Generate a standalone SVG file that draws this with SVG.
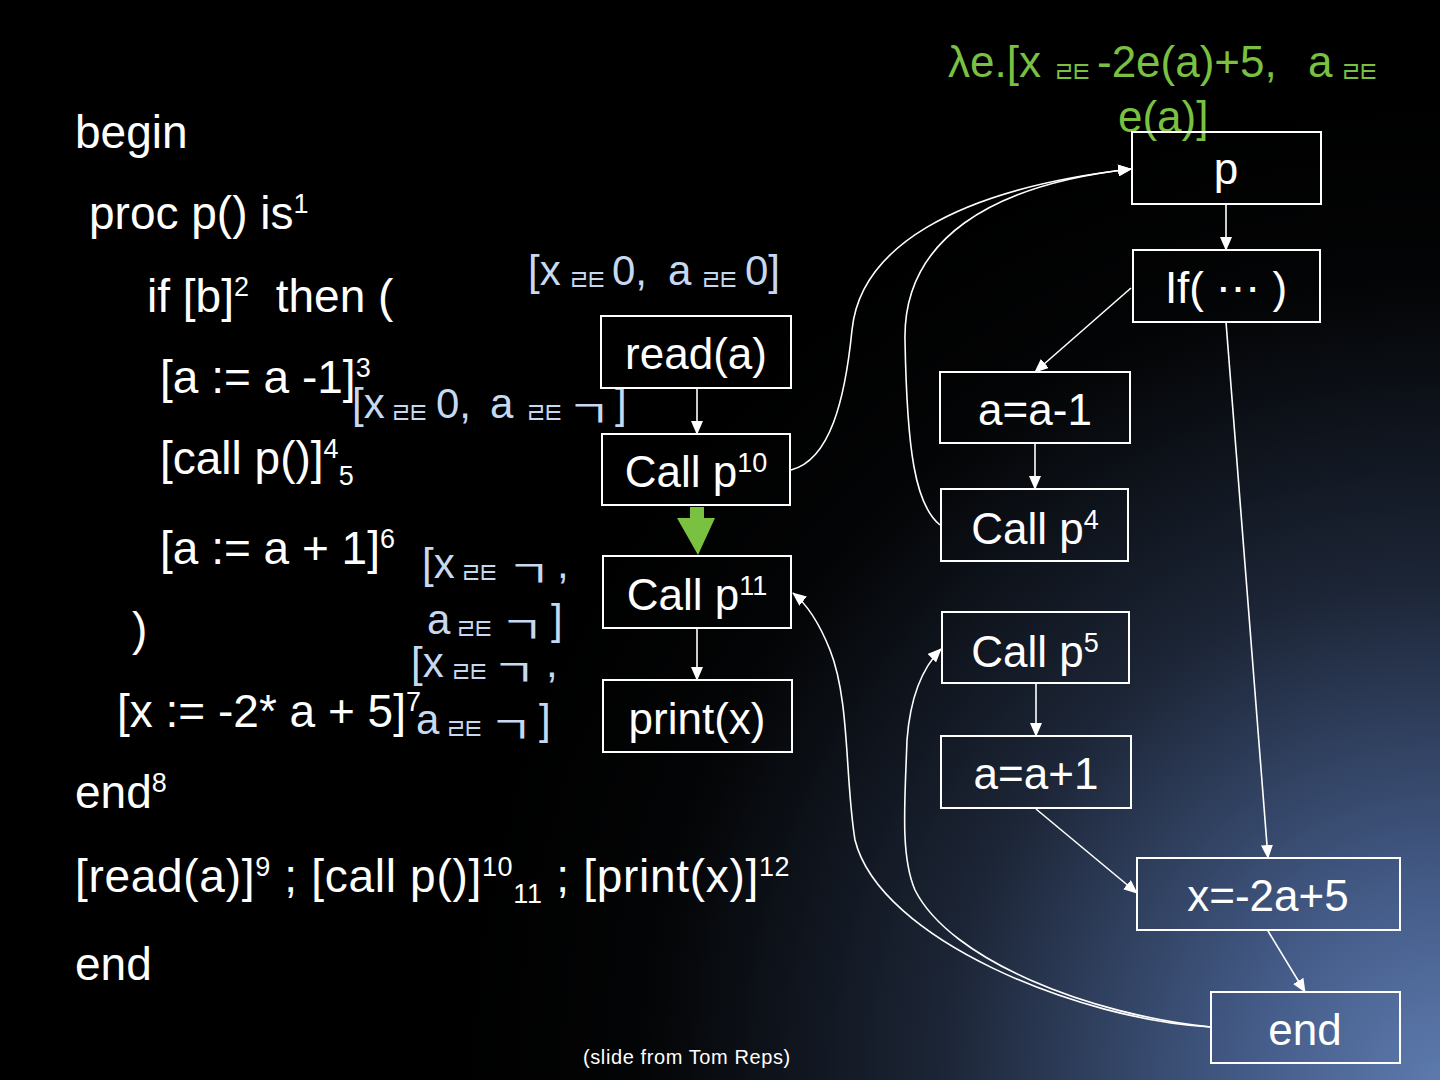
<svg xmlns="http://www.w3.org/2000/svg" width="1440" height="1080" viewBox="0 0 1440 1080">
<defs>
<radialGradient id="bg" cx="1440" cy="1080" r="1000" gradientUnits="userSpaceOnUse">
<stop offset="0" stop-color="#5d7aae"/>
<stop offset="0.2" stop-color="#435a86"/>
<stop offset="0.5" stop-color="#1c2536"/>
<stop offset="0.8" stop-color="#030405"/>
<stop offset="1" stop-color="#000"/>
</radialGradient>
<marker id="ah" markerUnits="userSpaceOnUse" markerWidth="14" markerHeight="12" refX="13" refY="6" orient="auto">
<path d="M0,0 L14,6 L0,12 z" fill="#fff"/>
</marker>
<style>
.code{font-family:"Liberation Sans",Arial,sans-serif;font-size:46px;fill:#fff}
.lbl{font-family:"Liberation Sans",Arial,sans-serif;font-size:44px;fill:#fff;text-anchor:middle}
.box{fill:none;stroke:#fff;stroke-width:2}
.ann{font-family:"Liberation Sans",Arial,sans-serif;font-size:42px;fill:#c6d9f1}
.annk{font-family:"Noto Sans CJK KR",sans-serif;font-size:30px;letter-spacing:-6px;fill:#c6d9f1}
.neg{font-family:"Noto Sans CJK KR",sans-serif;font-size:38px;fill:#c6d9f1}
.grn{font-family:"Liberation Sans",Arial,sans-serif;font-size:44px;fill:#7ac142}
.grnk{font-family:"Noto Sans CJK KR",sans-serif;font-size:30px;letter-spacing:-6px;fill:#7ac142}
.sup{font-size:27px}
.edge{fill:none;stroke:#fff;stroke-width:1.6;marker-end:url(#ah)}
</style>
</defs>
<rect width="1440" height="1080" fill="url(#bg)"/>

<g id="code">
<text class="code" x="75" y="148">begin</text>
<text class="code" x="89" y="229">proc p() is<tspan class="sup" dy="-16">1</tspan></text>
<text class="code" x="147" y="312">if [b]<tspan class="sup" dy="-16">2</tspan><tspan dy="16" dx="14">  then (</tspan></text>
<text class="code" x="160" y="393">[a := a -1]<tspan class="sup" dy="-16">3</tspan></text>
<text class="code" x="160" y="474">[call p()]<tspan class="sup" dy="-16">4</tspan><tspan class="sup" dy="27">5</tspan></text>
<text class="code" x="160" y="564">[a := a + 1]<tspan class="sup" dy="-16">6</tspan></text>
<text class="code" x="132" y="645">)</text>
<text class="code" x="117" y="727">[x := -2* a + 5]<tspan class="sup" dy="-16">7</tspan></text>
<text class="code" x="75" y="808">end<tspan class="sup" dy="-16">8</tspan></text>
<text class="code" x="75" y="892" style="letter-spacing:0.7px">[read(a)]<tspan class="sup" dy="-16">9</tspan><tspan dy="16"> ; [call p()]</tspan><tspan class="sup" dy="-16">10</tspan><tspan class="sup" dy="27">11</tspan><tspan dy="-11"> ; [print(x)]</tspan><tspan class="sup" dy="-16">12</tspan></text>
<text class="code" x="75" y="980">end</text>
<text x="583" y="1064" style="font-family:'Liberation Sans',Arial,sans-serif;font-size:20px;fill:#fff;letter-spacing:0.6px">(slide from Tom Reps)</text>
</g>

<g id="summary">
<text class="grn" x="948" y="77">λe.[x</text>
<text class="grnk" transform="translate(1053,82) scale(0.8,1)">ㄹㅌ</text>
<text class="grn" x="1097" y="77">-2e(a)+5,</text>
<text class="grn" x="1308" y="77">a</text>
<text class="grnk" transform="translate(1340,82) scale(0.8,1)">ㄹㅌ</text>
<text class="grn" x="1118" y="132">e(a)]</text>
</g>

<g id="ann1">
<text class="ann" x="528" y="285">[x</text>
<text class="annk" transform="translate(568,290) scale(0.8,1)">ㄹㅌ</text>
<text class="ann" x="612" y="285">0,</text>
<text class="ann" x="668" y="285">a</text>
<text class="annk" transform="translate(700,290) scale(0.8,1)">ㄹㅌ</text>
<text class="ann" x="745" y="285">0]</text>
</g>
<g id="ann2">
<text class="ann" x="352" y="418">[x</text>
<text class="annk" transform="translate(390,423) scale(0.8,1)">ㄹㅌ</text>
<text class="ann" x="436" y="418">0,</text>
<text class="ann" x="490" y="418">a</text>
<text class="annk" transform="translate(525,423) scale(0.8,1)">ㄹㅌ</text>
<text class="neg" transform="translate(567,427) scale(1.25,1)">ㄱ</text>
<text class="ann" x="615" y="418">]</text>
</g>
<g id="ann3">
<text class="ann" x="422" y="578">[x</text>
<text class="annk" transform="translate(460,583) scale(0.8,1)">ㄹㅌ</text>
<text class="neg" transform="translate(507,587) scale(1.25,1)">ㄱ</text>
<text class="ann" x="557" y="578">,</text>
<text class="ann" x="427" y="634">a</text>
<text class="annk" transform="translate(455,639) scale(0.8,1)">ㄹㅌ</text>
<text class="neg" transform="translate(500,643) scale(1.25,1)">ㄱ</text>
<text class="ann" x="551" y="634">]</text>
</g>
<g id="ann4">
<text class="ann" x="411" y="677">[x</text>
<text class="annk" transform="translate(450,682) scale(0.8,1)">ㄹㅌ</text>
<text class="neg" transform="translate(492,686) scale(1.25,1)">ㄱ</text>
<text class="ann" x="546" y="677">,</text>
<text class="ann" x="416" y="734">a</text>
<text class="annk" transform="translate(445,739) scale(0.8,1)">ㄹㅌ</text>
<text class="neg" transform="translate(489,743) scale(1.25,1)">ㄱ</text>
<text class="ann" x="539" y="734">]</text>
</g>

<g id="connectors">
<path class="edge" d="M1226,204 L1226,250"/>
<path class="edge" d="M1131,288 L1035,372"/>
<path class="edge" d="M1035,444 L1035,489"/>
<path class="edge" d="M1036,684 L1036,736"/>
<path class="edge" d="M1036,809 L1137,893"/>
<path class="edge" d="M1226,322 L1268,858"/>
<path class="edge" d="M1268,931 L1305,992"/>
<path class="edge" d="M697,388 L697,434"/>
<path class="edge" d="M697,628 L697,680"/>
<path class="edge" d="M791,470 C830,460 845,400 852,330 C860,250 950,190 1131,169"/>
<path class="edge" d="M940,525 C915,505 907,450 905,340 C903,240 990,185 1131,169"/>
<path class="edge" d="M1211,1027 C1080,1020 880,940 855,840 C845,780 850,700 830,650 C820,625 808,605 793,593"/>
<path class="edge" d="M1211,1027 C1090,1015 950,960 915,890 C900,855 905,800 907,740 C910,700 920,670 941,649"/>
<polygon points="690,507 704,507 704,518 715,518 698,555 677,518 690,518" fill="#7ac142"/>
</g>

<g id="n-p"><rect class="box" x="1132" y="132" width="189" height="72"/><text class="lbl" x="1226" y="184">p</text></g>
<g id="n-if"><rect class="box" x="1133" y="250" width="187" height="72"/><text class="lbl" x="1226" y="303">If( ⋯ )</text></g>
<g id="n-read"><rect class="box" x="601" y="316" width="190" height="72"/><text class="lbl" x="696" y="369">read(a)</text></g>
<g id="n-call10"><rect class="box" x="602" y="434" width="188" height="71"/><text class="lbl" x="696" y="487">Call p<tspan class="sup" dy="-15">10</tspan></text></g>
<g id="n-call11"><rect class="box" x="603" y="556" width="188" height="72"/><text class="lbl" x="697" y="610">Call p<tspan class="sup" dy="-15">11</tspan></text></g>
<g id="n-print"><rect class="box" x="603" y="680" width="189" height="72"/><text class="lbl" x="697" y="734">print(x)</text></g>
<g id="n-am1"><rect class="box" x="940" y="372" width="190" height="71"/><text class="lbl" x="1035" y="425">a=a-1</text></g>
<g id="n-call4"><rect class="box" x="941" y="489" width="187" height="72"/><text class="lbl" x="1035" y="544">Call p<tspan class="sup" dy="-15">4</tspan></text></g>
<g id="n-call5"><rect class="box" x="942" y="612" width="187" height="71"/><text class="lbl" x="1035" y="667">Call p<tspan class="sup" dy="-15">5</tspan></text></g>
<g id="n-ap1"><rect class="box" x="941" y="736" width="190" height="72"/><text class="lbl" x="1036" y="789">a=a+1</text></g>
<g id="n-x"><rect class="box" x="1137" y="858" width="263" height="72"/><text class="lbl" x="1268" y="911">x=-2a+5</text></g>
<g id="n-end"><rect class="box" x="1211" y="992" width="189" height="71"/><text class="lbl" x="1305" y="1045">end</text></g>
</svg>
